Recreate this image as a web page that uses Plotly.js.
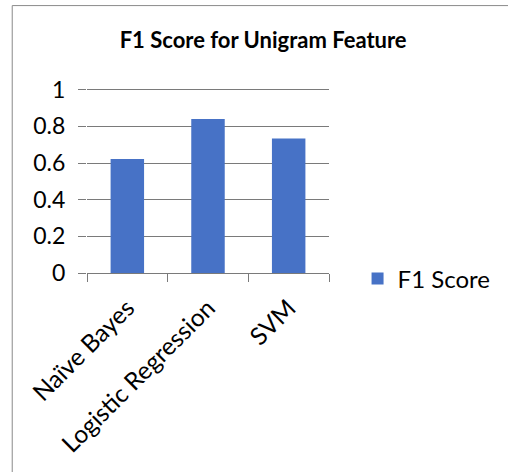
<!DOCTYPE html>
<html>
<head>
<meta charset="utf-8">
<script src="https://cdn.plot.ly/plotly-3.0.1.min.js"></script>
<style>html,body{margin:0;padding:0;background:#fff;}#chart{width:508px;height:472px;}</style>
</head>
<body>
<div id="chart"></div>
<script>
const categories = ["Naïve Bayes", "Logistic Regression", "SVM"];
const f1Scores = [0.622, 0.840, 0.733];
const seriesName = "F1 Score";
const yTickVals = [0, 0.2, 0.4, 0.6, 0.8, 1];
const yTickText = ["0", "0.2", "0.4", "0.6", "0.8", "1"];

const FONT = "Lato, 'Open Sans', sans-serif";
const GRID = "#7a7a7a";

const trace = {
  type: "bar",
  x: categories,
  y: f1Scores,
  name: seriesName,
  showlegend: true,
  marker: {color: "#4772c6", line: {width: 0}},
  hoverinfo: "none"
};

const layout = {
  width: 508, height: 472,
  margin: {l: 87, r: 175, t: 86, b: 199, pad: 0},
  paper_bgcolor: "#fff", plot_bgcolor: "#fff",
  font: {family: FONT, color: "#000", size: 23},
  bargap: 0.585,
  title: {text: "<b>F1 Score for Unigram Feature</b>", font: {family: FONT, size: 22, color: "#000"},
          x: 0.518, xanchor: "center", y: 0.915, yanchor: "middle"},
  xaxis: {
    type: "category", tickangle: -45, showline: true, linecolor: GRID, linewidth: 1,
    ticks: "outside", tickson: "boundaries", ticklen: 8, tickcolor: GRID, tickwidth: 1,
    showgrid: false, zeroline: false, tickfont: {size: 24.5, family: FONT}, ticklabelstandoff: 10,
    automargin: false
  },
  yaxis: {
    range: [0, 1.02], tickvals: yTickVals, ticktext: yTickText, showgrid: true, gridcolor: GRID, gridwidth: 1,
    ticks: "outside", ticklen: 8, tickcolor: GRID, tickwidth: 1, showline: false, zeroline: false,
    tickfont: {size: 23, family: FONT}, ticklabelstandoff: 8, automargin: false
  },
  legend: {x: 1.118, xanchor: "left", y: -0.032, yanchor: "middle", font: {size: 24, family: FONT},
           bgcolor: "rgba(0,0,0,0)", borderwidth: 0},
  shapes: [{type: "rect", xref: "paper", yref: "paper", x0: -0.309, x1: 1.8, y0: -1.2, y1: 1.43,
            line: {color: "#8a8a8a", width: 1}, fillcolor: "rgba(0,0,0,0)", layer: "below"}]
};

Plotly.newPlot("chart", [trace], layout, {staticPlot: true, displayModeBar: false});
</script>
</body>
</html>
